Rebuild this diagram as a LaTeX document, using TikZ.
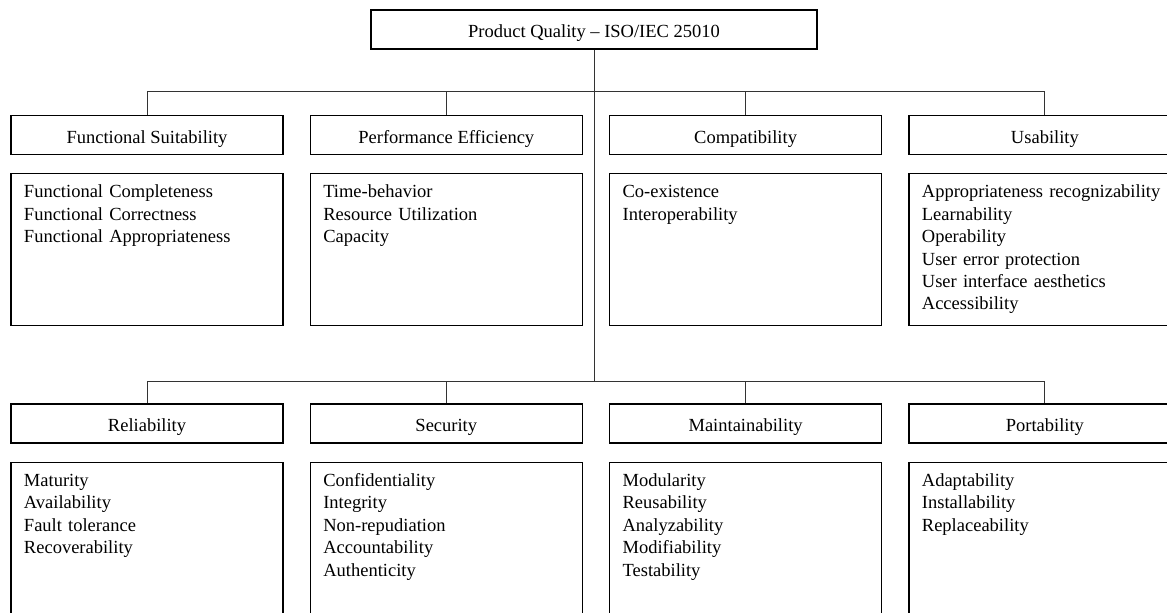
\documentclass[tikz,border=0pt]{standalone}
\usepackage{fontspec}
\setmainfont{Liberation Serif}
\usetikzlibrary{positioning}

\begin{document}
\begin{tikzpicture}[
    font=\fontsize{9.25}{11.2}\selectfont,
    node distance=9pt and 13pt,
    box/.style={draw, line width=0.65pt, rectangle, inner sep=0pt},
    head/.style={box, minimum width=136pt, minimum height=19.5pt, text height=8.2pt, text depth=0pt},
    list/.style={box, text width=123pt, align=left, inner xsep=6.5pt, inner ysep=4pt,
                 text height=8pt, text depth=60pt},
    link/.style={line width=0.5pt, black!80}
]
\useasboundingbox (0,0) rectangle (583.5pt,-306pt);
\clip (0,0) rectangle (583.5pt,-306pt);

% Nodes
\node[head, minimum width=223pt] (pq) at (297pt,-14.75pt) {Product Quality -- ISO/IEC 25010};

\node[head] (fs) at (73.5pt,-67.5pt) {Functional Suitability};
\node[head, right=of fs] (pe) {Performance Efficiency};
\node[head, right=of pe] (co) {Compatibility};
\node[head, right=of co] (us) {Usability};

\node[list, below=of fs] (fsl) {Functional Completeness\\Functional Correctness\\Functional Appropriateness};
\node[list, below=of pe] (pel) {Time-behavior\\Resource Utilization\\Capacity};
\node[list, below=of co] (col) {Co-existence\\Interoperability};
\node[list, below=of us] (usl) {Appropriateness recognizability\\Learnability\\Operability\\User error protection\\User interface aesthetics\\Accessibility};

\node[head, below=38.5pt of fsl] (re) {Reliability};
\node[head, right=of re] (se) {Security};
\node[head, right=of se] (ma) {Maintainability};
\node[head, right=of ma] (po) {Portability};

\node[list, below=of re] (rel) {Maturity\\Availability\\Fault tolerance\\Recoverability};
\node[list, below=of se] (sel) {Confidentiality\\Integrity\\Non-repudiation\\Accountability\\Authenticity};
\node[list, below=of ma] (mal) {Modularity\\Reusability\\Analyzability\\Modifiability\\Testability};
\node[list, below=of po] (pol) {Adaptability\\Installability\\Replaceability};

% Lines
\draw[link] (pq.south) -- ([yshift=11pt]pq.south |- re.north);
\draw[link] (fs.north) -- ++(0,11.5pt) -| (us.north);
\draw[link] (pe.north) -- ++(0,11.5pt);
\draw[link] (co.north) -- ++(0,11.5pt);
\draw[link] (re.north) -- ++(0,11pt) -| (po.north);
\draw[link] (se.north) -- ++(0,11pt);
\draw[link] (ma.north) -- ++(0,11pt);
\end{tikzpicture}
\end{document}
